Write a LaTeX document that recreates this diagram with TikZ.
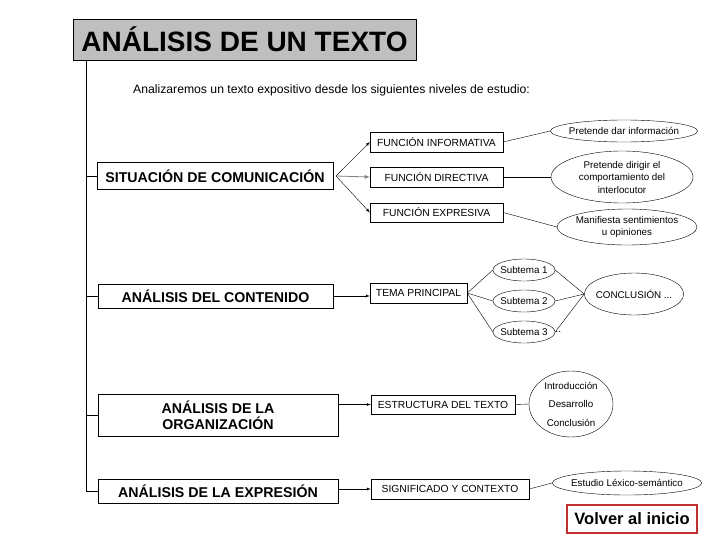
\documentclass[tikz,border=0pt]{standalone}
\usepackage{fontspec}
\setmainfont{Liberation Sans}
\usetikzlibrary{shapes.geometric}
\definecolor{vred}{HTML}{C03030}
\begin{document}
\begin{tikzpicture}[x=1pt,y=-1pt,
  lvl/.style={draw,semithick,font=\bfseries\fontsize{14.2}{16}\selectfont,inner sep=0pt,align=center},
  fbox/.style={draw,font=\fontsize{10.3}{12}\selectfont,inner sep=0pt},
  ell/.style={draw,ellipse,font=\fontsize{9.8}{12.5}\selectfont,inner sep=-3pt,align=center},
  arr/.style={-latex}]
\useasboundingbox (0,0) rectangle (728,546);
\node[draw,thick,fill=black!25,minimum width=343,minimum height=41,inner sep=0pt,font=\bfseries\fontsize{28}{30}\selectfont] (title) at (244.5,39.5) {ANÁLISIS DE UN TEXTO};
\node[font=\fontsize{12.2}{14}\selectfont,anchor=west,inner sep=0pt] (sub) at (133,90) {Analizaremos un texto expositivo desde los siguientes niveles de estudio:};
\coordinate (top) at (86,60);
\coordinate (bot) at (86,491);
% levels
\node[lvl,minimum width=236,minimum height=27] (sit) at (215,176) {SITUACIÓN DE COMUNICACIÓN};
\node[lvl,minimum width=235,minimum height=24] (con) at (215.5,296) {ANÁLISIS DEL CONTENIDO};
\node[lvl,minimum width=240,minimum height=42] (org) at (218,415) {ANÁLISIS DE LA\\ORGANIZACIÓN};
\node[lvl,minimum width=240,minimum height=24] (exp) at (218,491) {ANÁLISIS DE LA EXPRESIÓN};
\draw[semithick] (top) -- (bot) -- (exp.west);
\draw[semithick] (86,176) -- (sit.west);
\draw[semithick] (86,296) -- (con.west);
\draw[semithick] (86,415) -- (org.west);
% functions
\node[fbox,minimum width=133,minimum height=20] (fi) at (436.5,142) {FUNCIÓN INFORMATIVA};
\node[fbox,minimum width=133,minimum height=20] (fd) at (436.5,177) {FUNCIÓN DIRECTIVA};
\node[fbox,minimum width=133,minimum height=19] (fe) at (436.5,212.5) {FUNCIÓN EXPRESIVA};
\coordinate (sp) at (336,176);
\draw[arr] (sp) -- (fi.west);
\draw[arr,gray,thick] (sp) -- (fd.west);
\draw[arr] (sp) -- (fe.west);
\node[ell,minimum width=140,minimum height=22] (e1) at (624,131) {Pretende dar información};
\node[ell,minimum width=142,minimum height=52] (e2) at (622,177) {Pretende dirigir el\\comportamiento del\\interlocutor};
\node[ell,minimum width=140,minimum height=36] (e3) at (627,227) {Manifiesta sentimientos\\u opiniones};
\draw (fi.east) -- (e1.west);
\draw (fd.east) -- (e2.west);
\draw (fe.east) -- (e3.west);
% contenido
\node[fbox,minimum width=97,minimum height=20] (tema) at (418.5,293) {TEMA PRINCIPAL};
\draw[arr] (con.east) -- (tema.west |- con.east);
\node[ell,minimum width=62,minimum height=22] (s1) at (524,270) {Subtema 1};
\node[ell,minimum width=62,minimum height=22] (s2) at (524,301) {Subtema 2};
\node[ell,minimum width=62,minimum height=22] (s3) at (524,332) {Subtema 3};
\node[font=\fontsize{10.3}{12}\selectfont,anchor=west,inner sep=0pt] (dots) at (s3.east) {..};
\node[ell,minimum width=92,minimum height=42] (cl) at (634,294) {CONCLUSIÓN ...};
\foreach \s in {s1,s2,s3}{\draw (tema.east) -- (\s.west); \draw (\s.east) -- (cl.west);}
% organizacion
\node[fbox,minimum width=144,minimum height=19] (est) at (443,404.5) {ESTRUCTURA DEL TEXTO};
\draw[arr] (org.east |- est.west) -- (est.west);
\node[ell,minimum width=84,minimum height=66,font=\fontsize{9.8}{18.5}\selectfont] (circ) at (571,404) {Introducción\\Desarrollo\\Conclusión};
\draw (est.east) -- (circ.west);
% expresion
\node[fbox,minimum width=158,minimum height=20] (sig) at (450,489) {SIGNIFICADO Y CONTEXTO};
\draw[arr] (org.east |- sig.west) -- (sig.west);
\node[ell,minimum width=144,minimum height=24] (lex) at (627,483) {Estudio Léxico-semántico};
\draw (sig.east) -- (lex.west);
\node[draw=vred,very thick,minimum width=130,minimum height=28,inner sep=0pt,font=\bfseries\fontsize{16.5}{18}\selectfont] (volver) at (632,519) {Volver al inicio};
\end{tikzpicture}
\end{document}
